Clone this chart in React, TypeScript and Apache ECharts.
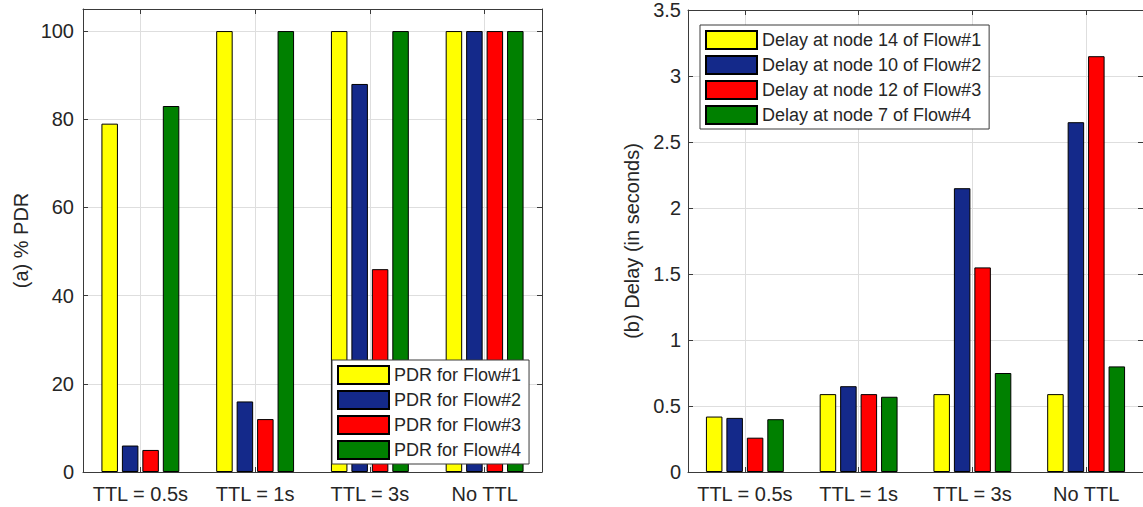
import React, { useEffect, useRef } from "react";
import * as echarts from "echarts";

const categories = ["TTL = 0.5s", "TTL = 1s", "TTL = 3s", "No TTL"];

const pdrNames = ["PDR for Flow#1", "PDR for Flow#2", "PDR for Flow#3", "PDR for Flow#4"];
const pdrFlow1 = [79, 100, 100, 100];
const pdrFlow2 = [6, 16, 88, 100];
const pdrFlow3 = [5, 12, 46, 100];
const pdrFlow4 = [83, 100, 100, 100];

const delayNames = [
  "Delay at node 14 of Flow#1",
  "Delay at node 10 of Flow#2",
  "Delay at node 12 of Flow#3",
  "Delay at node 7 of Flow#4",
];
const delayFlow1 = [0.42, 0.59, 0.59, 0.59];
const delayFlow2 = [0.41, 0.65, 2.15, 2.65];
const delayFlow3 = [0.26, 0.59, 1.55, 3.15];
const delayFlow4 = [0.4, 0.57, 0.75, 0.8];

const pdrAxis = { min: 0, max: 105, interval: 20, labelMax: 100 };
const delayAxis = { min: 0, max: 3.5, interval: 0.5, labelMax: 3.5 };

const flowColors = ["#FFFF00", "#14298A", "#FF0000", "#008000"];

const FONT = "'Liberation Sans', Arial, Helvetica, sans-serif";
const TEXT = "#262626";
const FRAME = "#3a3a3a";
const GRID = "#dedede";

export default function App() {
  const ref = useRef<HTMLDivElement>(null);

  useEffect(() => {
    if (!ref.current) return;
    const chart = echarts.init(ref.current, undefined, { renderer: "svg" });

    const bottomX = (gridIndex: number) => ({
      type: "category",
      gridIndex,
      data: categories,
      position: "bottom",
      axisLine: { show: true, onZero: false, lineStyle: { color: FRAME, width: 1 } },
      axisTick: { show: true, inside: true, alignWithLabel: true, interval: 0, length: 5, lineStyle: { color: FRAME } },
      axisLabel: { interval: 0, fontSize: 20, margin: 12, color: TEXT, fontFamily: FONT },
      splitLine: { show: true, alignWithLabel: true, interval: 0, lineStyle: { color: GRID, width: 1 } },
    });
    const topX = (gridIndex: number) => ({
      type: "category",
      gridIndex,
      data: categories,
      position: "top",
      axisLine: { show: true, onZero: false, lineStyle: { color: FRAME, width: 1 } },
      axisTick: { show: true, inside: true, alignWithLabel: true, interval: 0, length: 5, lineStyle: { color: FRAME } },
      axisLabel: { show: false },
      splitLine: { show: false },
    });
    const leftY = (gridIndex: number, ax: any, name: string, nameGap: number, margin: number) => ({
      type: "value",
      gridIndex,
      position: "left",
      min: ax.min,
      max: ax.max,
      interval: ax.interval,
      name,
      nameLocation: "middle",
      nameGap,
      nameTextStyle: { fontSize: 20, color: TEXT, fontFamily: FONT },
      axisLine: { show: true, onZero: false, lineStyle: { color: FRAME, width: 1 } },
      axisTick: { show: true, inside: true, length: 5, lineStyle: { color: FRAME } },
      axisLabel: {
        fontSize: 20,
        margin,
        color: TEXT,
        fontFamily: FONT,
        formatter: (v: number) => (v > ax.labelMax + 1e-9 ? "" : String(v)),
      },
      splitLine: { show: true, lineStyle: { color: GRID, width: 1 } },
    });
    const rightY = (gridIndex: number, ax: any) => ({
      type: "value",
      gridIndex,
      position: "right",
      min: ax.min,
      max: ax.max,
      interval: ax.interval,
      axisLine: { show: true, onZero: false, lineStyle: { color: FRAME, width: 1 } },
      axisTick: { show: true, inside: true, length: 5, lineStyle: { color: FRAME } },
      axisLabel: { show: false },
      splitLine: { show: false },
    });

    const barSeries = (name: string, data: number[], color: string, xi: number, yi: number) => ({
      type: "bar",
      name,
      data,
      xAxisIndex: xi,
      yAxisIndex: yi,
      barWidth: 16.5,
      barGap: "24%",
      itemStyle: { color, borderColor: "#000", borderWidth: 1 },
    });

    const pdrData = [pdrFlow1, pdrFlow2, pdrFlow3, pdrFlow4];
    const delayData = [delayFlow1, delayFlow2, delayFlow3, delayFlow4];

    const legendBase = {
      orient: "vertical",
      icon: "rect",
      itemWidth: 51,
      itemHeight: 18,
      itemGap: 5,
      padding: [5, 8, 4, 5],
      borderColor: FRAME,
      borderWidth: 1,
      backgroundColor: "#fff",
      borderRadius: 0,
      selectedMode: false,
      textStyle: { fontSize: 18, color: TEXT, fontFamily: FONT },
      z: 10,
    };

    chart.setOption({
      animation: false,
      textStyle: { fontFamily: FONT },
      grid: [
        { left: 83, top: 9, width: 459, height: 463, containLabel: false },
        { left: 688, top: 9, width: 460, height: 463, containLabel: false },
      ],
      xAxis: [bottomX(0), topX(0), bottomX(1), topX(1)],
      yAxis: [
        leftY(0, pdrAxis, "(a) % PDR", 52, 9),
        rightY(0, pdrAxis),
        leftY(1, delayAxis, "(b) Delay (in seconds)", 46, 7),
        rightY(1, delayAxis),
      ],
      legend: [
        { ...legendBase, data: pdrNames, left: 332, top: 360 },
        { ...legendBase, data: delayNames, left: 700, top: 25 },
      ],
      series: [
        ...pdrData.map((d, i) => barSeries(pdrNames[i], d, flowColors[i], 0, 0)),
        ...delayData.map((d, i) => barSeries(delayNames[i], d, flowColors[i], 2, 2)),
      ],
    });

    return () => chart.dispose();
  }, []);

  return (
    <div
      ref={ref}
      style={{ position: "absolute", left: 0, top: 0, width: 1143, height: 507, background: "#fff" }}
    />
  );
}
